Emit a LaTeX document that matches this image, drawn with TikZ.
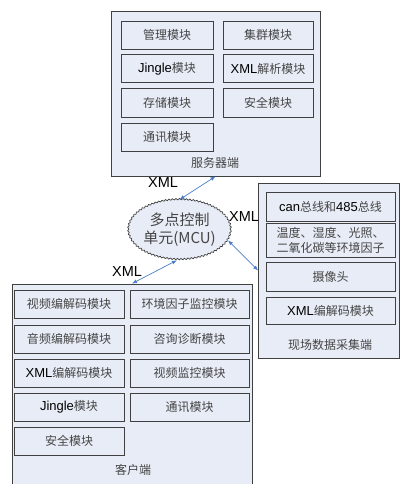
\documentclass[tikz,border=0pt]{standalone}
\usepackage{fontspec}
\setmainfont{Noto Sans CJK SC}
\newfontfamily\latf{Liberation Sans}
\newcommand\lat{\latf\fontsize{13}{15}\selectfont}
\usetikzlibrary{arrows.meta,shapes.geometric,decorations.pathmorphing}
\definecolor{bgc}{HTML}{E7ECF6}
\definecolor{edgec}{HTML}{404040}
\definecolor{txtc}{HTML}{454545}
\definecolor{arrc}{HTML}{4A7EC8}
\begin{document}
\begin{tikzpicture}[x=1pt,y=-1pt,
  outerbox/.style={draw=edgec, fill=bgc, line width=0.8pt, inner sep=0pt},
  mod/.style={draw=edgec, fill=bgc, line width=0.8pt, inner sep=0pt, minimum height=28pt,
    text=txtc, font=\fontsize{12}{15}\selectfont, align=center},
  lbl/.style={text=txtc, font=\fontsize{12}{15}\selectfont, inner sep=0pt},
  xmll/.style={text=black, font=\latf\fontsize{14.5}{16}\selectfont, inner sep=0pt},
  conn/.style={draw=arrc, line width=0.7pt, <->, >={Latex[length=5pt,width=4pt]}}
]
\useasboundingbox (0,0) rectangle (401,484);

% server
\node[outerbox, minimum width=209pt, minimum height=165pt] (srv) at (215.5,93.5) {};
\node[mod, minimum width=92pt] (s1) at (167,35) {管理模块};
\node[mod, minimum width=90pt] (s2) at (268,35) {集群模块};
\node[mod, minimum width=92pt] (s3) at (167,68.5) {{\lat\color{black}Jingle}模块};
\node[mod, minimum width=90pt] (s4) at (268,68.5) {{\lat\color{black}XML}解析模块};
\node[mod, minimum width=92pt, minimum height=29pt] (s5) at (167,102.5) {存储模块};
\node[mod, minimum width=90pt, minimum height=29pt] (s6) at (268,102.5) {安全模块};
\node[mod, minimum width=92pt] (s7) at (167,137) {通讯模块};
\node[lbl] (srvl) at (215,163) {服务器端};

% field
\node[outerbox, minimum width=141pt, minimum height=175pt] (fld) at (329,270.5) {};
\node[mod, minimum width=129pt, minimum height=29pt] (f1) at (330.5,206.5) {{\lat\color{black}can}总线和{\lat\color{black}485}总线};
\node[mod, minimum width=129pt, minimum height=34pt] (f2) at (330.5,240) {温度、湿度、光照、\\二氧化碳等环境因子};
\node[mod, minimum width=129pt, minimum height=29pt] (f3) at (330.5,276.5) {摄像头};
\node[mod, minimum width=129pt, minimum height=27pt] (f4) at (330.5,310.5) {{\lat\color{black}XML}编解码模块};
\node[lbl] (fldl) at (330,345) {现场数据采集端};

% client
\node[outerbox, minimum width=240pt, minimum height=210pt] (cli) at (132,389) {};
\node[mod, minimum width=110pt] (c1) at (69,304) {视频编解码模块};
\node[mod, minimum width=119pt] (c2) at (189.5,304) {环境因子监控模块};
\node[mod, minimum width=110pt] (c3) at (69,339) {音频编解码模块};
\node[mod, minimum width=119pt] (c4) at (189.5,339) {咨询诊断模块};
\node[mod, minimum width=110pt] (c5) at (69,373) {{\lat\color{black}XML}编解码模块};
\node[mod, minimum width=119pt] (c6) at (189.5,373) {视频监控模块};
\node[mod, minimum width=110pt] (c7) at (69,407) {{\lat\color{black}Jingle}模块};
\node[mod, minimum width=119pt] (c8) at (189.5,407) {通讯模块};
\node[mod, minimum width=110pt] (c9) at (69,441) {安全模块};
\node[lbl] (clil) at (133,470) {客户端};

% cloud
\node[ellipse, draw=edgec, fill=bgc, line width=0.7pt, minimum width=95pt, minimum height=60pt,
  inner sep=0pt, text=txtc, align=center, font=\fontsize{15}{18}\selectfont,
  decorate, decoration={snake, segment length=3.5pt, amplitude=0.7pt}] (mcu) at (179.5,230)
  {多点控制\\单元(MCU)};

% connectors
\draw[conn] (srv.south) -- (mcu.north);
\draw[conn] (mcu.-12) -- (fld.west);
\draw[conn] (mcu.-95) -- (cli.north);

\node[xmll] (x1) at (163,183) {XML};
\node[xmll] (x2) at (244,217) {XML};
\node[xmll] (x3) at (127,272) {XML};
\end{tikzpicture}
\end{document}
